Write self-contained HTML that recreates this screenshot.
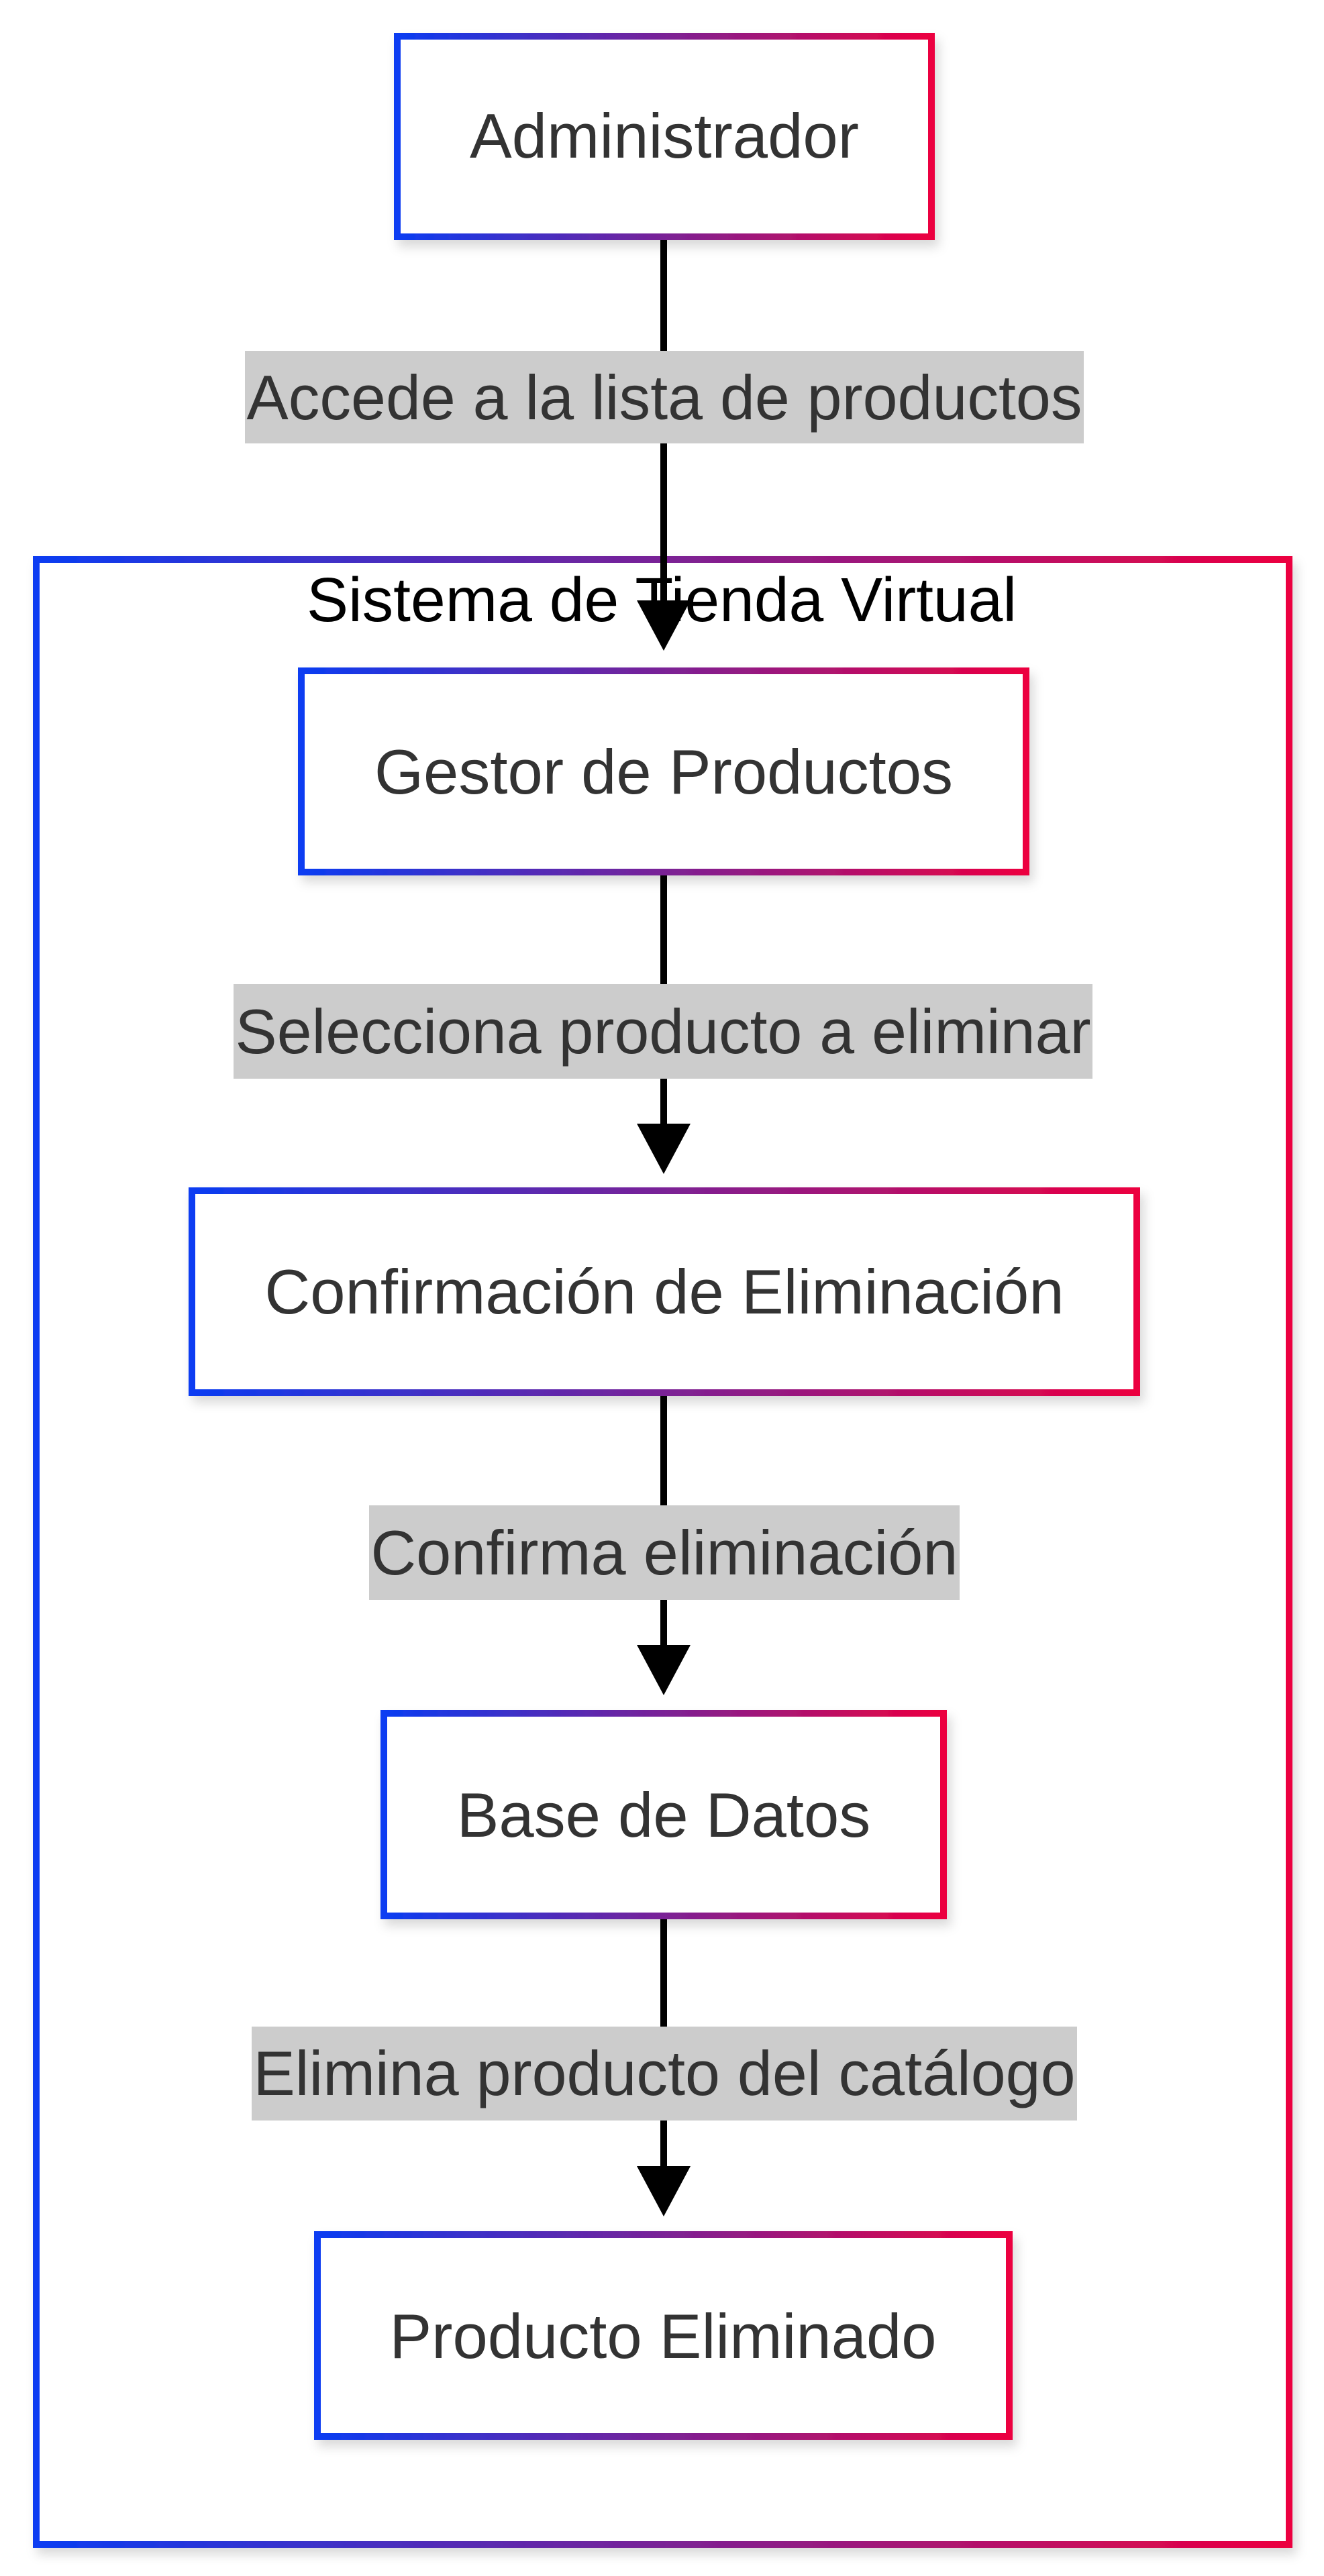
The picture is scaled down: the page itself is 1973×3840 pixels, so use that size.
<!DOCTYPE html>
<html><head><meta charset="utf-8"><style>
html,body{margin:0;padding:0;background:#fff;}
svg{display:block;}
text{font-family:"Liberation Sans",Arial,sans-serif;}
</style></head><body>
<svg width="1973" height="3840" viewBox="0 0 1973 3840" xmlns="http://www.w3.org/2000/svg">
<defs>
<linearGradient id="g" x1="0" y1="0" x2="1" y2="0">
<stop offset="0" stop-color="#0a3cf2"/><stop offset="0.5" stop-color="#7a2296"/><stop offset="1" stop-color="#ec0040"/>
</linearGradient>
<filter id="sh" x="-10%" y="-10%" width="120%" height="130%">
<feDropShadow dx="6" dy="10" stdDeviation="8" flood-color="#000" flood-opacity="0.15"/>
</filter>
</defs>
<rect width="1973" height="3840" fill="#fff"/>
<rect x="54" y="834" width="1867" height="2959" fill="#fff" stroke="url(#g)" stroke-width="10" filter="url(#sh)"/>
<text x="986" y="926" font-size="93" text-anchor="middle" fill="#000">Sistema de Tienda Virtual</text>
<g stroke="#000" stroke-width="10">
<line x1="989" y1="353" x2="989" y2="900"/>
<line x1="989" y1="1300" x2="989" y2="1680"/>
<line x1="989" y1="2076" x2="989" y2="2460"/>
<line x1="989" y1="2856" x2="989" y2="3235"/>
</g>
<g fill="#000">
<polygon points="949,895 1029,895 989,970"/>
<polygon points="949,1675 1029,1675 989,1750"/>
<polygon points="949,2452 1029,2452 989,2527"/>
<polygon points="949,3229 1029,3229 989,3304"/>
</g>
<g fill="#cccccc">
<rect x="365" y="523" width="1250" height="138"/>
<rect x="348" y="1467" width="1280" height="141"/>
<rect x="550" y="2244" width="880" height="141"/>
<rect x="375" y="3021" width="1230" height="140"/>
</g>
<g fill="#333" font-size="94" text-anchor="middle">
<text x="990" y="625" textLength="1245" lengthAdjust="spacingAndGlyphs">Accede a la lista de productos</text>
<text x="988" y="1570" textLength="1275" lengthAdjust="spacingAndGlyphs">Selecciona producto a eliminar</text>
<text x="990" y="2347" textLength="875" lengthAdjust="spacingAndGlyphs">Confirma eliminación</text>
<text x="990" y="3123" textLength="1225" lengthAdjust="spacingAndGlyphs">Elimina producto del catálogo</text>
</g>
<g fill="#fff" stroke="url(#g)" stroke-width="10" filter="url(#sh)">
<rect x="592" y="54" width="796" height="299"/>
<rect x="449" y="1000" width="1080" height="300"/>
<rect x="286" y="1775" width="1408" height="301"/>
<rect x="572" y="2554" width="834" height="302"/>
<rect x="473" y="3331" width="1031" height="301"/>
</g>
<g fill="#333" font-size="94" text-anchor="middle">
<text x="990" y="235">Administrador</text>
<text x="989" y="1183">Gestor de Productos</text>
<text x="990" y="1958">Confirmación de Eliminación</text>
<text x="989" y="2738">Base de Datos</text>
<text x="988" y="3515">Producto Eliminado</text>
</g>
</svg>
</body></html>
